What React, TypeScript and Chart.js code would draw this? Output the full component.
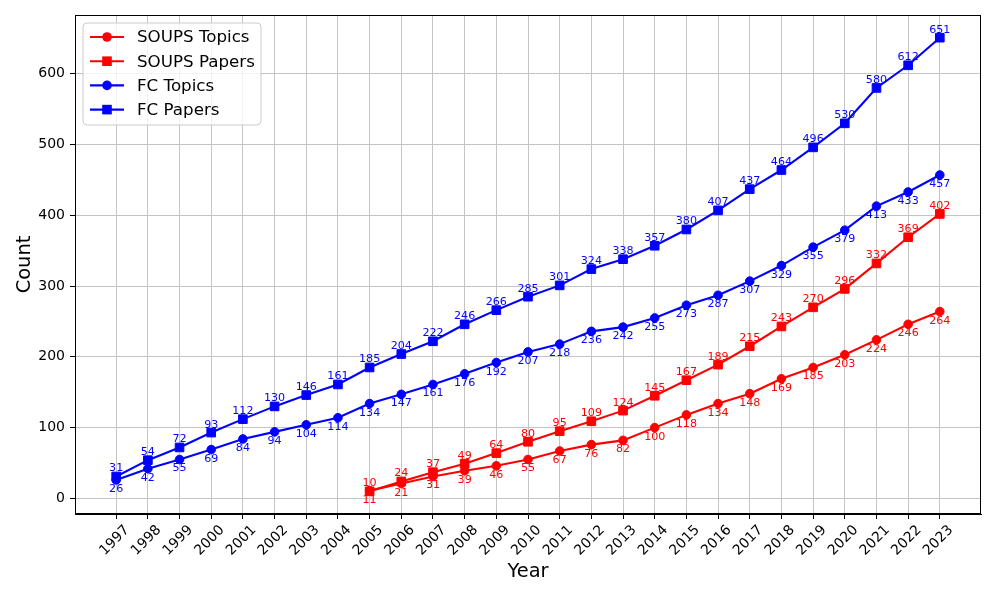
import React, { useEffect, useRef } from "react";
import { Chart, registerables } from "chart.js";

Chart.register(...registerables);

const years = [1997, 1998, 1999, 2000, 2001, 2002, 2003, 2004, 2005, 2006, 2007, 2008, 2009, 2010, 2011, 2012, 2013, 2014, 2015, 2016, 2017, 2018, 2019, 2020, 2021, 2022, 2023];
const soupsYears = [2005, 2006, 2007, 2008, 2009, 2010, 2011, 2012, 2013, 2014, 2015, 2016, 2017, 2018, 2019, 2020, 2021, 2022, 2023];
const soupsTopics = [11, 21, 31, 39, 46, 55, 67, 76, 82, 100, 118, 134, 148, 169, 185, 203, 224, 246, 264];
const soupsPapers = [10, 24, 37, 49, 64, 80, 95, 109, 124, 145, 167, 189, 215, 243, 270, 296, 332, 369, 402];
const fcTopics = [26, 42, 55, 69, 84, 94, 104, 114, 134, 147, 161, 176, 192, 207, 218, 236, 242, 255, 273, 287, 307, 329, 355, 379, 413, 433, 457];
const fcPapers = [31, 54, 72, 93, 112, 130, 146, 161, 185, 204, 222, 246, 266, 285, 301, 324, 338, 357, 380, 407, 437, 464, 496, 530, 580, 612, 651];
const yTicks = [0, 100, 200, 300, 400, 500, 600];

const FONT = "'DejaVu Sans', sans-serif";

const pts = (xs: number[], ys: number[]) => xs.map((x, i) => ({ x, y: ys[i] }));

const seriesMeta = [
  { label: "SOUPS Topics", color: "#ff0000", style: "circle", kind: "topics" },
  { label: "SOUPS Papers", color: "#ff0000", style: "rect", kind: "papers" },
  { label: "FC Topics", color: "#0000ff", style: "circle", kind: "topics" },
  { label: "FC Papers", color: "#0000ff", style: "rect", kind: "papers" },
];

const overlay = {
  id: "overlay",
  afterDatasetsDraw(chart: any) {
    const ctx = chart.ctx;
    ctx.save();
    ctx.font = `11.1px ${FONT}`;
    ctx.textAlign = "center";
    ctx.textBaseline = "alphabetic";
    chart.data.datasets.forEach((ds: any, i: number) => {
      const meta = chart.getDatasetMeta(i);
      const m = seriesMeta[i];
      ctx.fillStyle = m.color;
      meta.data.forEach((el: any, j: number) => {
        const v = ds.data[j].y;
        const y = m.kind === "papers" ? el.y - 5 : el.y + 12;
        ctx.fillText(String(v), el.x, y);
      });
    });
    ctx.restore();
  },
  afterDraw(chart: any) {
    const ctx = chart.ctx;
    const { left, right, top, bottom } = chart.chartArea;
    ctx.save();
    // frame
    ctx.strokeStyle = "#000";
    ctx.lineWidth = 1;
    ctx.strokeRect(left + 0.5, top + 0.5, right - left - 1, bottom - top - 1);

    // x tick labels rotated 45
    const xs = chart.scales.x;
    ctx.font = `14px ${FONT}`;
    ctx.fillStyle = "#000";
    ctx.textAlign = "center";
    ctx.textBaseline = "middle";
    const h = 14;
    years.forEach((yr) => {
      const px = xs.getPixelForValue(yr);
      const w = ctx.measureText(String(yr)).width;
      const bb = (w + h) / Math.SQRT2;
      const cy = bottom + 9 + bb / 2;
      ctx.save();
      ctx.translate(px - 1.5, cy);
      ctx.rotate(-Math.PI / 4);
      ctx.fillText(String(yr), 0, 0);
      ctx.restore();
    });

    // axis titles
    ctx.font = `19.4px ${FONT}`;
    ctx.textAlign = "center";
    ctx.textBaseline = "middle";
    ctx.fillText("Year", (left + right) / 2, 572);
    ctx.save();
    ctx.translate(25, (top + bottom) / 2);
    ctx.rotate(-Math.PI / 2);
    ctx.fillText("Count", 0, 0);
    ctx.restore();

    // legend
    const lx = 83, ly = 23, lw = 178, lh = 102, r = 4;
    ctx.beginPath();
    ctx.moveTo(lx + r, ly);
    ctx.lineTo(lx + lw - r, ly);
    ctx.quadraticCurveTo(lx + lw, ly, lx + lw, ly + r);
    ctx.lineTo(lx + lw, ly + lh - r);
    ctx.quadraticCurveTo(lx + lw, ly + lh, lx + lw - r, ly + lh);
    ctx.lineTo(lx + r, ly + lh);
    ctx.quadraticCurveTo(lx, ly + lh, lx, ly + lh - r);
    ctx.lineTo(lx, ly + r);
    ctx.quadraticCurveTo(lx, ly, lx + r, ly);
    ctx.closePath();
    ctx.fillStyle = "rgba(255,255,255,0.8)";
    ctx.fill();
    ctx.strokeStyle = "#cccccc";
    ctx.lineWidth = 1;
    ctx.stroke();

    ctx.font = `16.7px ${FONT}`;
    ctx.textAlign = "left";
    ctx.textBaseline = "middle";
    seriesMeta.forEach((m, i) => {
      const cy = 37 + i * 24.2;
      ctx.strokeStyle = m.color;
      ctx.fillStyle = m.color;
      ctx.lineWidth = 2.1;
      ctx.beginPath();
      ctx.moveTo(90, cy);
      ctx.lineTo(124, cy);
      ctx.stroke();
      if (m.style === "circle") {
        ctx.beginPath();
        ctx.arc(107, cy, 4.8, 0, Math.PI * 2);
        ctx.fill();
      } else {
        ctx.fillRect(107 - 4.8, cy - 4.8, 9.6, 9.6);
      }
      ctx.fillStyle = "#000";
      ctx.fillText(m.label, 137, cy + 1);
    });
    ctx.restore();
  },
};

export default function App() {
  const ref = useRef<HTMLCanvasElement>(null);
  useEffect(() => {
    document.body.style.margin = "0";
    const mk = (i: number, data: any[]) => {
      const m = seriesMeta[i];
      return {
        label: m.label,
        data,
        borderColor: m.color,
        backgroundColor: m.color,
        borderWidth: 2.1,
        pointStyle: m.style,
        pointRadius: m.style === "rect" ? 6.1 : 4.3,
        pointBorderWidth: 1,
        pointBorderColor: m.color,
        pointBackgroundColor: m.color,
        pointHoverRadius: 5,
        tension: 0,
        fill: false,
      };
    };
    const chart = new Chart(ref.current!, {
      type: "line",
      data: {
        datasets: [
          mk(0, pts(soupsYears, soupsTopics)),
          mk(1, pts(soupsYears, soupsPapers)),
          mk(2, pts(years, fcTopics)),
          mk(3, pts(years, fcPapers)),
        ] as any,
      },
      options: {
        responsive: false,
        animation: false,
        devicePixelRatio: 1,
        layout: { padding: { top: 15, right: 16, left: 0, bottom: 0 } },
        plugins: { legend: { display: false }, tooltip: { enabled: false } },
        scales: {
          x: {
            type: "linear",
            min: 1995.7,
            max: 2024.3,
            afterBuildTicks: (s: any) => {
              s.ticks = years.map((v) => ({ value: v }));
            },
            afterFit: (s: any) => {
              s.height = 84;
            },
            ticks: { display: false },
            grid: { color: "#c4c4c4", lineWidth: 1, tickLength: 5, tickColor: "#000", drawTicks: true },
            border: { display: true, color: "#000", width: 1 },
          },
          y: {
            type: "linear",
            min: -22.05,
            max: 683.05,
            afterBuildTicks: (s: any) => {
              s.ticks = yTicks.map((v) => ({ value: v }));
            },
            afterFit: (s: any) => {
              s.width = 75;
            },
            ticks: { color: "#000", font: { family: FONT, size: 14 }, padding: 5 },
            grid: { color: "#c4c4c4", lineWidth: 1, tickLength: 5, tickColor: "#000", drawTicks: true },
            border: { display: true, color: "#000", width: 1 },
          },
        },
      },
      plugins: [overlay],
    });
    return () => chart.destroy();
  }, []);
  return (
    <div style={{ position: "absolute", left: 0, top: 0, width: 997, height: 598 }}>
      <canvas ref={ref} width={997} height={598} />
    </div>
  );
}
